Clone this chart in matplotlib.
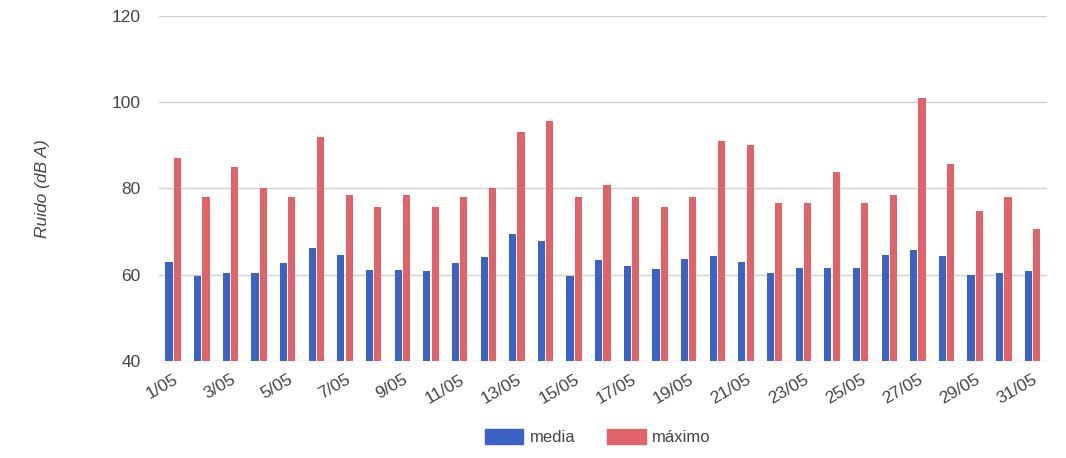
import numpy as np
import matplotlib.pyplot as plt
from matplotlib.patches import Patch

plt.rcParams['font.family'] = ['Liberation Sans', 'DejaVu Sans']

# data
days = [f"{d}/05" for d in range(1, 32)]
media = [63.0, 59.8, 60.5, 60.5, 62.7, 66.1, 64.6, 61.1, 61.1, 60.8,
         62.7, 64.0, 69.5, 67.8, 59.8, 63.3, 62.1, 61.3, 63.6, 64.3,
         63.0, 60.5, 61.5, 61.5, 61.5, 64.6, 65.8, 64.3, 60.0, 60.5, 60.8]
maximo = [87, 78, 85, 80, 78, 92, 78.6, 75.7, 78.6, 75.7,
          78, 80, 93, 95.6, 78, 80.8, 78, 75.7, 78, 90.9,
          90, 76.7, 76.7, 83.8, 76.7, 78.6, 100.9, 85.7, 74.7, 78, 70.6]

colors = ['#3b63c6', '#e0636a']

fig = plt.figure(figsize=(10.66, 4.58), dpi=100)
ax = fig.add_axes([0.149, 0.212, 0.833, 0.753])

x = np.arange(len(days))
w = 0.25
ax.bar(x - 0.145, media, width=w, color=colors[0], zorder=3)
ax.bar(x + 0.145, maximo, width=w, color=colors[1], zorder=3)

ax.set_ylim(40, 120)
ax.set_xlim(-0.5, len(days) - 0.5)
ax.set_yticks([40, 60, 80, 100, 120])
ax.yaxis.grid(True, color='#d0d0d0', linewidth=1, zorder=0)

for s in ax.spines.values():
    s.set_visible(False)

ax.set_xticks(x[::2])
ax.set_xticklabels(days[::2], rotation=30, ha='right', rotation_mode='anchor')
ax.tick_params(axis='both', length=0, labelsize=12.5, colors='#444444')
ax.tick_params(axis='y', pad=13)
ax.tick_params(axis='x', pad=8)

ax.set_ylabel('Ruido (dB A)', fontsize=12.5, style='italic', color='#444444')
ax.yaxis.set_label_coords(-0.123, 0.5)

handles = [Patch(color=colors[0]), Patch(color=colors[1])]
fig.legend(handles, ['media', 'máximo'], loc='lower center', bbox_to_anchor=(0.561, -0.005),
           ncol=2, frameon=False, fontsize=12, handlelength=2.3, handleheight=1.0,
           handletextpad=0.4, columnspacing=1.9, labelcolor='#444444')

fig.savefig('out.png', dpi=100)
